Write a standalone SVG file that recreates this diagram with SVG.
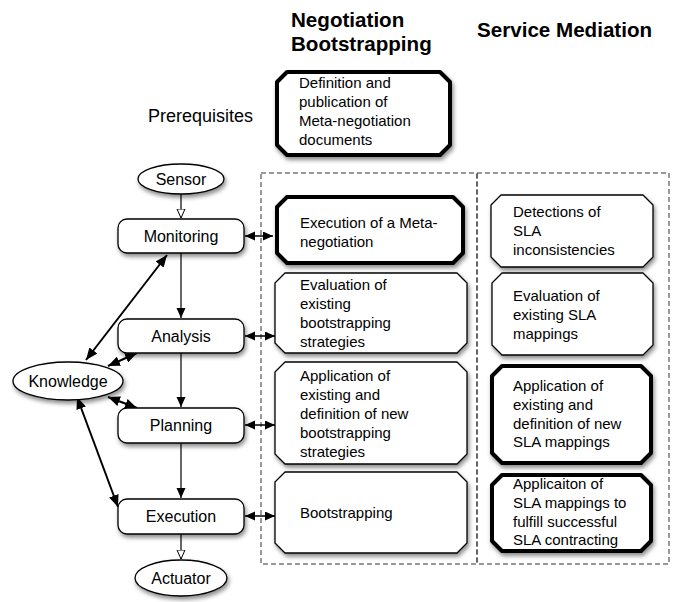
<svg xmlns="http://www.w3.org/2000/svg" width="678" height="602" viewBox="0 0 678 602">
<defs>
<style>
text{font-family:"Liberation Sans",Arial,sans-serif;fill:#000}
.h{font-size:20.6px;font-weight:bold}
.pre{font-size:18px}
.lbl{font-size:16px;text-anchor:middle}
.bt{font-size:15px}
.node{fill:#fff;stroke:#000;stroke-width:1.3;filter:url(#sh)}
.thin{fill:#fff;stroke:#000;stroke-width:1.3;stroke-linejoin:round;filter:url(#sh)}
.thick{fill:#fff;stroke:#000;stroke-width:4;stroke-linejoin:round;filter:url(#sh)}
.dash{fill:none;stroke:#333;stroke-width:1;stroke-dasharray:5,3}
.flow{stroke:#000;stroke-width:1.2;fill:none}
.kn{stroke:#000;stroke-width:2;fill:none;marker-start:url(#ah);marker-end:url(#ah)}
.hz{stroke:#000;stroke-width:1.5;fill:none;marker-start:url(#ah2);marker-end:url(#ah2)}
</style>
<filter id="sh" x="-20%" y="-20%" width="140%" height="150%">
<feDropShadow dx="1.5" dy="3" stdDeviation="2" flood-color="#000" flood-opacity="0.45"/>
</filter>
<marker id="af" markerUnits="userSpaceOnUse" markerWidth="10" markerHeight="10" refX="10" refY="4.5" orient="auto">
<path d="M0,0 L10,4.5 L0,9 z" fill="#000"/>
</marker>
<marker id="ao" markerUnits="userSpaceOnUse" markerWidth="10" markerHeight="10" refX="9.5" refY="4.5" orient="auto">
<path d="M0.5,0.5 L9.5,4.5 L0.5,8.5 z" fill="#fff" stroke="#000" stroke-width="1"/>
</marker>
<marker id="ah" markerUnits="userSpaceOnUse" markerWidth="12" markerHeight="10" refX="12" refY="5" orient="auto-start-reverse">
<path d="M0,0 L12,5 L0,10 z" fill="#000"/>
</marker>
<marker id="ah2" markerUnits="userSpaceOnUse" markerWidth="10" markerHeight="10" refX="10" refY="4.5" orient="auto-start-reverse">
<path d="M0,0 L10,4.5 L0,9 z" fill="#000"/>
</marker>
</defs>
<rect width="678" height="602" fill="#fff"/>

<g id="headings">
<text class="h" x="291" y="27">Negotiation</text>
<text class="h" x="291" y="51">Bootstrapping</text>
<text class="h" x="477" y="37">Service Mediation</text>
<text class="pre" x="148" y="122">Prerequisites</text>
</g>

<g id="columns">
<rect class="dash" x="261" y="173" width="216" height="391"/>
<rect class="dash" x="477" y="173" width="192" height="391"/>
</g>

<g id="connectors">
<line class="flow" x1="181" y1="194" x2="181" y2="218" marker-end="url(#ao)"/>
<line class="flow" x1="181" y1="253" x2="181" y2="318" marker-end="url(#af)"/>
<line class="flow" x1="181" y1="353" x2="181" y2="407" marker-end="url(#af)"/>
<line class="flow" x1="181" y1="443" x2="181" y2="498" marker-end="url(#af)"/>
<line class="flow" x1="181" y1="534" x2="181" y2="559" marker-end="url(#ao)"/>
<line class="kn" x1="86" y1="360" x2="167" y2="255"/>
<line class="kn" x1="108" y1="366" x2="137" y2="353"/>
<line class="kn" x1="108" y1="397" x2="137" y2="408"/>
<line class="kn" x1="77" y1="397" x2="118" y2="507"/>
<line class="hz" x1="245" y1="236" x2="273" y2="236"/>
<line class="hz" x1="245" y1="336" x2="275" y2="336"/>
<line class="hz" x1="245" y1="425" x2="275" y2="425"/>
<line class="hz" x1="245" y1="516" x2="275" y2="516"/>
</g>

<g id="sensor">
<ellipse class="node" cx="181" cy="179" rx="43" ry="15"/>
<text class="lbl" x="181" y="185">Sensor</text>
</g>
<g id="monitoring">
<rect class="node" x="118" y="219" width="126" height="34" rx="9"/>
<text class="lbl" x="181" y="242">Monitoring</text>
</g>
<g id="analysis">
<rect class="node" x="118" y="319" width="126" height="34" rx="9"/>
<text class="lbl" x="181" y="342">Analysis</text>
</g>
<g id="planning">
<rect class="node" x="118" y="408" width="126" height="35" rx="9"/>
<text class="lbl" x="181" y="431">Planning</text>
</g>
<g id="execution">
<rect class="node" x="118" y="499" width="126" height="35" rx="9"/>
<text class="lbl" x="181" y="522">Execution</text>
</g>
<g id="knowledge">
<ellipse class="node" cx="68" cy="381" rx="55" ry="19"/>
<text class="lbl" x="68" y="387">Knowledge</text>
</g>
<g id="actuator">
<ellipse class="node" cx="181" cy="578" rx="46" ry="18"/>
<text class="lbl" x="181" y="584">Actuator</text>
</g>

<g id="definition">
<path class="thick" d="M287,72 H440 L450,82 V145 L440,155 H287 L277,145 V82 Z"/>
<text class="bt" x="299" y="88">Definition and</text>
<text class="bt" x="299" y="107">publication of</text>
<text class="bt" x="299" y="126">Meta-negotiation</text>
<text class="bt" x="299" y="145">documents</text>
</g>
<g id="meta-negotiation">
<path class="thick" d="M287,197 H453 L463,207 V253 L453,263 H287 L277,253 V207 Z"/>
<text class="bt" x="300" y="228">Execution of a Meta-</text>
<text class="bt" x="300" y="247">negotiation</text>
</g>
<g id="eval-bootstrapping">
<path class="thin" d="M285,273 H457 L467,283 V343 L457,353 H285 L275,343 V283 Z"/>
<text class="bt" x="300" y="290">Evaluation of</text>
<text class="bt" x="300" y="309">existing</text>
<text class="bt" x="300" y="328">bootstrapping</text>
<text class="bt" x="300" y="347">strategies</text>
</g>
<g id="app-bootstrapping">
<path class="thin" d="M285,362 H457 L467,372 V454 L457,464 H285 L275,454 V372 Z"/>
<text class="bt" x="300" y="381">Application of</text>
<text class="bt" x="300" y="400">existing and</text>
<text class="bt" x="300" y="419">definition of new</text>
<text class="bt" x="300" y="438">bootstrapping</text>
<text class="bt" x="300" y="457">strategies</text>
</g>
<g id="bootstrapping">
<path class="thin" d="M285,472 H457 L467,482 V543 L457,553 H285 L275,543 V482 Z"/>
<text class="bt" x="300" y="518">Bootstrapping</text>
</g>

<g id="detections">
<path class="thin" d="M501,195 H643 L653,205 V257 L643,267 H501 L491,257 V205 Z"/>
<text class="bt" x="513" y="217">Detections of</text>
<text class="bt" x="513" y="236">SLA</text>
<text class="bt" x="513" y="255">inconsistencies</text>
</g>
<g id="eval-sla">
<path class="thin" d="M502,273 H643 L653,283 V345 L643,355 H502 L492,345 V283 Z"/>
<text class="bt" x="513" y="301">Evaluation of</text>
<text class="bt" x="513" y="320">existing SLA</text>
<text class="bt" x="513" y="339">mappings</text>
</g>
<g id="app-sla">
<path class="thick" d="M502,366 H641 L651,376 V453 L641,463 H502 L492,453 V376 Z"/>
<text class="bt" x="513" y="391">Application of</text>
<text class="bt" x="513" y="410">existing and</text>
<text class="bt" x="513" y="429">definition of new</text>
<text class="bt" x="513" y="447">SLA mappings</text>
</g>
<g id="applicaiton-sla">
<path class="thick" d="M502,475 H641 L651,485 V541 L641,551 H502 L492,541 V485 Z"/>
<text class="bt" x="513" y="489">Applicaiton of</text>
<text class="bt" x="513" y="508">SLA mappings to</text>
<text class="bt" x="513" y="527">fulfill successful</text>
<text class="bt" x="513" y="545">SLA contracting</text>
</g>
</svg>
